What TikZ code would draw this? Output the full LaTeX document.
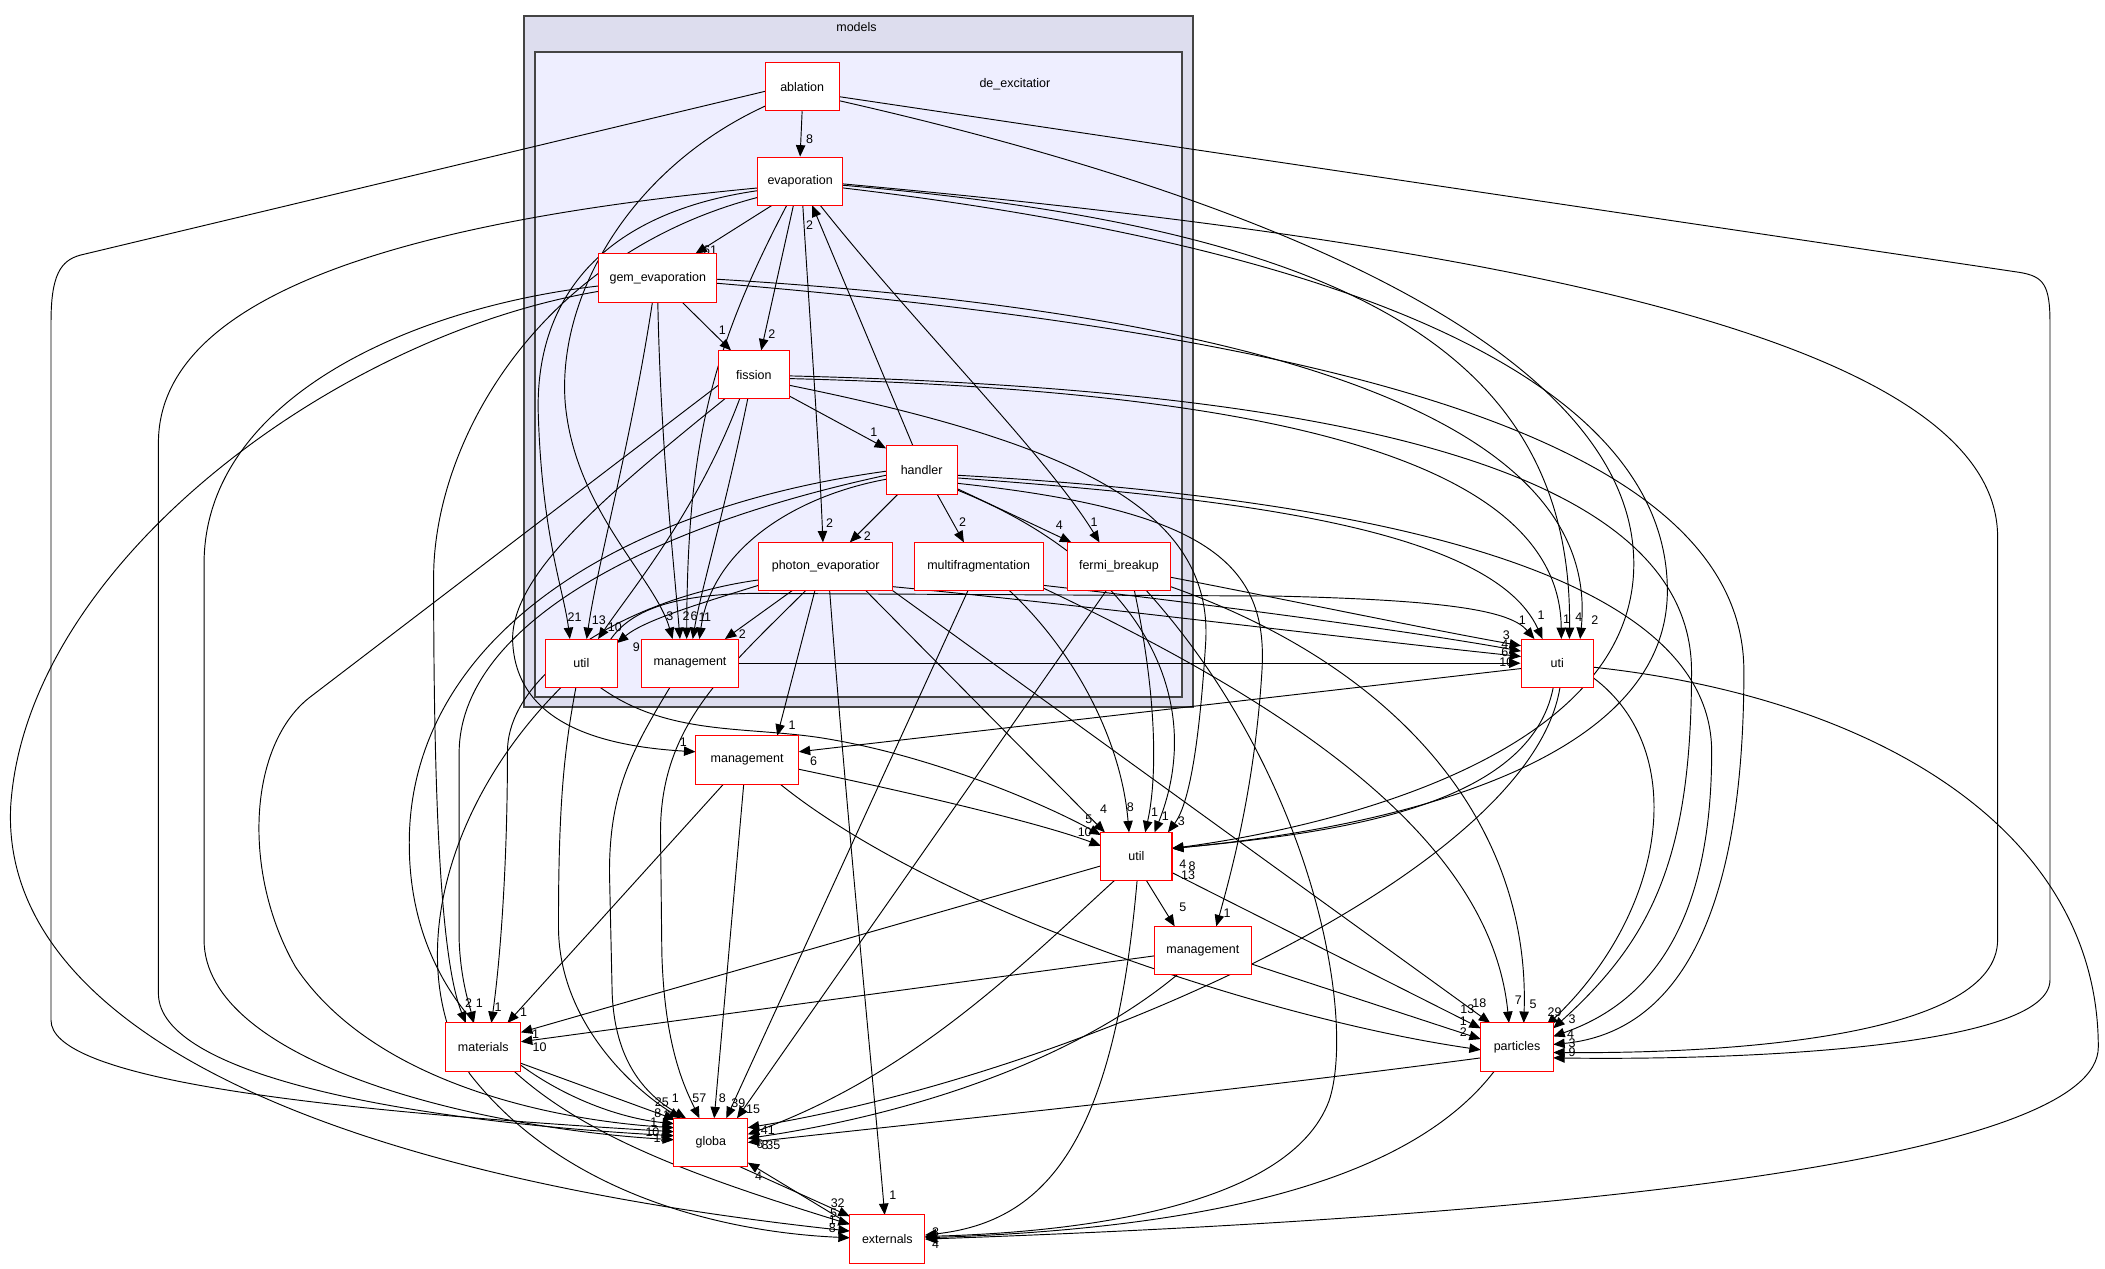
\documentclass[tikz,border=0pt]{standalone}
\usepackage{fontspec}
\setmainfont{Liberation Sans}
\usetikzlibrary{arrows.meta}
\definecolor{outerfill}{HTML}{DDDDEE}
\definecolor{innerfill}{HTML}{EEEEFF}
\definecolor{clborder}{HTML}{444444}
\pgfdeclarelayer{bg}
\pgfdeclarelayer{edges}
\pgfsetlayers{bg,edges,main}
\begin{document}
\begin{tikzpicture}[x=1pt,y=-1pt,
  dbox/.style={draw=red, fill=white, line width=0.75pt, minimum height=36pt, inner sep=0pt, font=\fontsize{9.3}{10}\selectfont},
  dep/.style={draw=black, line width=0.7pt, -{Triangle[length=8.5pt,width=7pt]}},
  lbl/.style={font=\fontsize{9.3}{10}\selectfont, inner sep=0pt},
  cl/.style={draw=clborder, line width=1.4pt}]
\useasboundingbox (0,0) rectangle (1568,944.6);
\begin{pgfonlayer}{bg}
\fill[white] (0,0) rectangle (1568,944.6);
\draw[cl, fill=outerfill] (390.3,12) rectangle (888.5,526.5);
\draw[cl, fill=innerfill] (398.5,38.5) rectangle (880.5,519);
\node[lbl] (tmodels) at (638,20) {models};
\node[lbl] (tdeexc) at (756,63) {de\_excitatior};
\end{pgfonlayer}
% nodes
\node[dbox, minimum width=55pt] (abl) at (597.5,64.5) {ablation};
\node[dbox, minimum width=63pt] (evap) at (596,135) {evaporation};
\node[dbox, minimum width=88pt] (gem) at (490,207) {gem\_evaporation};
\node[dbox, minimum width=53pt] (fis) at (561.5,279) {fission};
\node[dbox, minimum width=53pt] (hand) at (686.5,350) {handler};
\node[dbox, minimum width=100pt] (phot) at (615,422) {photon\_evaporatior};
\node[dbox, minimum width=96pt] (multi) at (729,422) {multifragmentation};
\node[dbox, minimum width=77pt] (fermi) at (833.5,422) {fermi\_breakup};
\node[dbox, minimum width=54pt] (utilA) at (433,494) {util};
\node[dbox, minimum width=72pt] (mgmtA) at (514,494) {management};
\node[dbox, minimum width=54pt] (uti) at (1160,494) {uti};
\node[dbox, minimum width=77pt] (mgmtB) at (556.5,566) {management};
\node[dbox, minimum width=53pt] (utilB) at (846.5,638) {util};
\node[dbox, minimum width=72pt] (mgmtC) at (896,708) {management};
\node[dbox, minimum width=56pt] (mat) at (360,780) {materials};
\node[dbox, minimum width=54pt] (part) at (1130,780) {particles};
\node[dbox, minimum width=55pt] (glob) at (529.5,851) {globa};
\node[dbox, minimum width=56pt] (ext) at (661,923) {externals};
\begin{pgfonlayer}{edges}
% inside de_excitation
\draw[dep] (abl.south) -- (evap.north) node[lbl] at (603,104) {8};
\draw[dep] ([shift={(-21,18)}]evap.center) -- ([shift={(28,-18)}]gem.center) node[lbl] at (529,186) {61};
\draw[dep] ([shift={(-5,18)}]evap.center) -- ([shift={(5.5,-18)}]fis.center) node[lbl] at (575,249) {2};
\draw[dep] ([shift={(18,18)}]gem.center) -- ([shift={(-17,-18)}]fis.center) node[lbl] at (538,246) {1};
\draw[dep] ([shift={(26.5,16)}]fis.center) -- ([shift={(-26.5,-16)}]hand.center) node[lbl] at (651,322) {1};
\draw[dep] ([shift={(-6.5,-18)}]hand.center) -- ([shift={(9,18)}]evap.center) node[lbl] at (603,168) {2};
\draw[dep] ([shift={(2,18)}]evap.center) .. controls (604,250) and (610,330) .. ([shift={(-2,-18)}]phot.center) node[lbl] at (618,390) {2};
\draw[dep] ([shift={(-17.5,18)}]hand.center) -- ([shift={(18,-18)}]phot.center) node[lbl] at (646,399) {2};
\draw[dep] ([shift={(11.5,18)}]hand.center) -- ([shift={(-11,-18)}]multi.center) node[lbl] at (717,389) {2};
\draw[dep] ([shift={(26.5,14)}]hand.center) -- ([shift={(-35.5,-18)}]fermi.center) node[lbl] at (789,391) {4};
\draw[dep] ([shift={(15,18)}]evap.center) .. controls (680,240) and (780,340) .. ([shift={(-14.5,-18)}]fermi.center) node[lbl] at (815,389) {1};
\draw[dep] ([shift={(-31.5,7)}]evap.center) .. controls (440,160) and (398,230) .. (401,310) .. controls (404,400) and (420,440) .. ([shift={(-8.5,-18)}]utilA.center) node[lbl] at (428,460) {21};
\draw[dep] ([shift={(-4,18)}]gem.center) .. controls (470,330) and (445,420) .. ([shift={(4,-18)}]utilA.center) node[lbl] at (446,462) {13};
\draw[dep] ([shift={(-10.5,18)}]fis.center) .. controls (520,380) and (470,440) .. ([shift={(12.5,-18)}]utilA.center) node[lbl] at (458,467) {10};
\draw[dep] ([shift={(-50,14)}]phot.center) .. controls (520,450) and (480,462) .. ([shift={(26.5,-15)}]utilA.center) node[lbl] at (474,482) {9};
\draw[dep] ([shift={(-27.5,14.5)}]abl.center) .. controls (470,125) and (415,220) .. (421,300) .. controls (428,380) and (488,430) .. ([shift={(-13,-18)}]mgmtA.center) node[lbl] at (499,459) {3};
\draw[dep] ([shift={(0,18)}]gem.center) .. controls (492,330) and (502,420) .. ([shift={(-7.5,-18)}]mgmtA.center) node[lbl] at (511,459) {2};
\draw[dep] ([shift={(-10,18)}]evap.center) .. controls (530,260) and (512,330) .. ([shift={(-2.5,-18)}]mgmtA.center) node[lbl] at (517,459) {6};
\draw[dep] ([shift={(-4.5,18)}]fis.center) .. controls (540,380) and (522,440) .. ([shift={(2,-18)}]mgmtA.center) node[lbl] at (523,460) {1};
\draw[dep] ([shift={(-26.5,7)}]hand.center) .. controls (590,370) and (530,410) .. ([shift={(7,-18)}]mgmtA.center) node[lbl] at (527,460) {1};
\draw[dep] ([shift={(-25,18)}]phot.center) -- ([shift={(26,-18)}]mgmtA.center) node[lbl] at (553,472) {2};
% to uti
\draw[dep] (mgmtA.east) -- (uti.west) node[lbl] at (1122,493) {10};
\draw[dep] ([shift={(50,15)}]phot.center) .. controls (800,450) and (1000,475) .. ([shift={(-27,-5)}]uti.center) node[lbl] at (1121,486) {6};
\draw[dep] ([shift={(48,14)}]multi.center) .. controls (900,450) and (1050,470) .. ([shift={(-27,-9)}]uti.center) node[lbl] at (1121,480) {4};
\draw[dep] ([shift={(38.5,8)}]fermi.center) .. controls (950,445) and (1070,470) .. ([shift={(-27,-13)}]uti.center) node[lbl] at (1122,473) {3};
\draw[dep] ([shift={(22,-18)}]utilA.center) .. controls (470,455) and (500,443) .. (560,442) -- (950,444) .. controls (1080,447) and (1125,455) .. ([shift={(-17,-18)}]uti.center) node[lbl] at (1134,462) {1};
\draw[dep] ([shift={(26.5,6)}]hand.center) .. controls (900,370) and (1110,390) .. ([shift={(-11,-18)}]uti.center) node[lbl] at (1148,458) {1};
\draw[dep] ([shift={(26.5,3)}]fis.center) .. controls (900,290) and (1162,330) .. ([shift={(3,-18)}]uti.center) node[lbl] at (1167,461) {1};
\draw[dep] ([shift={(32,3)}]evap.center) .. controls (1000,170) and (1172,260) .. ([shift={(9,-18)}]uti.center) node[lbl] at (1176,460) {4};
\draw[dep] ([shift={(44,1)}]gem.center) .. controls (900,230) and (1195,300) .. ([shift={(17,-18)}]uti.center) node[lbl] at (1188,462) {2};
% management (middle)
\draw[dep] ([shift={(-21.5,18)}]fis.center) .. controls (450,370) and (378,430) .. (382,480) .. controls (386,540) and (450,556) .. ([shift={(-38.5,-6)}]mgmtB.center) node[lbl] at (509,553) {1};
\draw[dep] ([shift={(-8,18)}]phot.center) -- ([shift={(22.5,-18)}]mgmtB.center) node[lbl] at (590,540) {1};
\draw[dep] ([shift={(-27,4)}]uti.center) -- ([shift={(38.5,-6)}]mgmtB.center) node[lbl] at (606,567) {6};
% util (lower)
\draw[dep] ([shift={(14,18)}]utilA.center) .. controls (500,550) and (560,540) .. (620,551) .. controls (700,565) and (780,600) .. ([shift={(-26.5,-16)}]utilB.center) node[lbl] at (811,610) {5};
\draw[dep] ([shift={(38.5,7)}]mgmtB.center) .. controls (700,595) and (780,615) .. ([shift={(-26.5,-8)}]utilB.center) node[lbl] at (808,620) {10};
\draw[dep] ([shift={(30,18)}]phot.center) -- ([shift={(-23.5,-18)}]utilB.center) node[lbl] at (822,603) {4};
\draw[dep] ([shift={(23,18)}]multi.center) .. controls (800,485) and (835,550) .. ([shift={(-5.5,-18)}]utilB.center) node[lbl] at (842,601) {8};
\draw[dep] ([shift={(11.5,18)}]fermi.center) .. controls (862,520) and (862,580) .. ([shift={(6.5,-18)}]utilB.center) node[lbl] at (860,605) {1};
\draw[dep] ([shift={(26.5,15)}]hand.center) .. controls (850,420) and (900,520) .. ([shift={(13.5,-18)}]utilB.center) node[lbl] at (868,608) {1};
\draw[dep] ([shift={(26.5,8)}]fis.center) .. controls (800,330) and (905,380) .. (898,480) .. controls (893,560) and (885,600) .. ([shift={(23.5,-18)}]utilB.center) node[lbl] at (880,612) {3};
\draw[dep] ([shift={(27.5,10.5)}]abl.center) .. controls (1000,160) and (1217,280) .. (1217,420) .. controls (1217,560) and (1000,615) .. ([shift={(26.5,-6)}]utilB.center) node[lbl] at (881,644) {4};
\draw[dep] ([shift={(32,5)}]evap.center) .. controls (1050,190) and (1242,300) .. (1242,440) .. controls (1242,580) and (1000,620) .. ([shift={(26.5,-6)}]utilB.center) node[lbl] at (888,645) {8};
\draw[dep] ([shift={(-3,18)}]uti.center) .. controls (1140,600) and (1000,620) .. ([shift={(26.5,-6)}]utilB.center) node[lbl] at (885,652) {13};
% management (lower)
\draw[dep] ([shift={(7.5,18)}]utilB.center) -- ([shift={(-21,-18)}]mgmtC.center) node[lbl] at (881,676) {5};
\draw[dep] ([shift={(26.5,10)}]hand.center) .. controls (900,380) and (945,420) .. (940,500) .. controls (935,580) and (920,640) .. ([shift={(10,-18)}]mgmtC.center) node[lbl] at (914,680) {1};
% materials
\draw[dep] ([shift={(-31.5,12)}]evap.center) .. controls (400,190) and (323,330) .. (323,430) .. controls (323,620) and (330,720) .. ([shift={(-13,-18)}]mat.center) node[lbl] at (349,747) {2};
\draw[dep] ([shift={(-26.5,4)}]hand.center) .. controls (470,395) and (343,470) .. (342,560) -- (342,700) .. controls (343,730) and (350,750) .. ([shift={(-7,-18)}]mat.center) node[lbl] at (357,747) {1};
\draw[dep] ([shift={(-50,10)}]phot.center) .. controls (470,445) and (378,500) .. (378,560) .. controls (378,650) and (372,720) .. ([shift={(6,-18)}]mat.center) node[lbl] at (371,750) {1};
\draw[dep] ([shift={(-17.5,18)}]mgmtB.center) -- ([shift={(18,-18)}]mat.center) node[lbl] at (390,754) {1};
\draw[dep] ([shift={(-26.5,7)}]utilB.center) -- ([shift={(28,-11)}]mat.center) node[lbl] at (399,770) {1};
\draw[dep] ([shift={(-36,4)}]mgmtC.center) -- ([shift={(28,-4)}]mat.center) node[lbl] at (402,780) {10};
% globa
\draw[dep] ([shift={(-27.5,3.5)}]abl.center) -- (60,190) .. controls (45,194) and (38,205) .. (38,240) -- (38,760) .. controls (38,800) and (200,825) .. ([shift={(-27.5,-8)}]glob.center) node[lbl] at (486,843) {10};
\draw[dep] ([shift={(-31.5,5)}]evap.center) .. controls (300,165) and (118,220) .. (118,330) -- (118,740) .. controls (118,800) and (300,835) .. ([shift={(-27.5,-5)}]glob.center) node[lbl] at (497,842) {6};
\draw[dep] ([shift={(-44,6)}]gem.center) .. controls (300,230) and (152,300) .. (152,420) -- (152,700) .. controls (152,790) and (350,840) .. ([shift={(-27.5,-2)}]glob.center) node[lbl] at (492,848) {15};
\draw[dep] ([shift={(-26.5,8)}]fis.center) -- (230,520) .. controls (185,556) and (180,650) .. (220,720) .. controls (280,810) and (420,835) .. ([shift={(-27.5,-11)}]glob.center) node[lbl] at (497,831) {2};
\draw[dep] ([shift={(-26.5,1)}]hand.center) .. controls (450,380) and (310,480) .. (305,620) .. controls (300,770) and (430,830) .. ([shift={(-27.5,-14)}]glob.center) node[lbl] at (487,836) {1};
\draw[dep] ([shift={(28,12)}]mat.center) -- ([shift={(-26.5,-17)}]glob.center) node[lbl] at (490,829) {8};
\draw[dep] ([shift={(-4,18)}]utilA.center) .. controls (420,560) and (416,600) .. (416,690) .. controls (416,760) and (470,810) .. ([shift={(-22.5,-18)}]glob.center) node[lbl] at (493,821) {25};
\draw[dep] ([shift={(-15,18)}]mgmtA.center) .. controls (470,560) and (454,590) .. (454,650) -- (456,740) .. controls (458,790) and (480,815) .. ([shift={(-18.5,-18)}]glob.center) node[lbl] at (503,818) {1};
\draw[dep] ([shift={(-15,18)}]phot.center) .. controls (540,500) and (492,540) .. (492,620) -- (493,710) .. controls (495,780) and (510,810) .. ([shift={(-8.5,-18)}]glob.center) node[lbl] at (521,818) {57};
\draw[dep] ([shift={(-2.5,18)}]mgmtB.center) -- ([shift={(2.5,-18)}]glob.center) node[lbl] at (538,818) {8};
\draw[dep] ([shift={(-8,18)}]multi.center) -- ([shift={(11.5,-18)}]glob.center) node[lbl] at (550,822) {39};
\draw[dep] ([shift={(-9.5,18)}]fermi.center) -- ([shift={(19.5,-18)}]glob.center) node[lbl] at (561,826) {15};
\draw[dep] ([shift={(2,18)}]uti.center) .. controls (1140,650) and (800,800) .. ([shift={(27.5,-11)}]glob.center) node[lbl] at (572,842) {41};
\draw[dep] ([shift={(-16.5,18)}]utilB.center) .. controls (760,720) and (680,800) .. ([shift={(27.5,-6)}]glob.center) node[lbl] at (566,852) {6};
\draw[dep] ([shift={(-19,18)}]mgmtC.center) .. controls (800,790) and (680,830) .. ([shift={(27.5,-3)}]glob.center) node[lbl] at (570,853) {8};
\draw[dep] ([shift={(-27,8)}]part.center) .. controls (900,815) and (700,835) .. ([shift={(27.5,0)}]glob.center) node[lbl] at (576,853) {35};
\draw[dep] ([shift={(-28,-11)}]ext.center) -- ([shift={(27.5,15)}]glob.center) node[lbl] at (565,876) {4};
% externals
\draw[dep] ([shift={(21.5,18)}]glob.center) -- ([shift={(-28,-17)}]ext.center) node[lbl] at (624,896) {32};
\draw[dep] ([shift={(23,18)}]mat.center) .. controls (440,850) and (530,880) .. ([shift={(-28,-11)}]ext.center) node[lbl] at (621,904) {5};
\draw[dep] ([shift={(-44,10)}]gem.center) .. controls (250,250) and (20,420) .. (8,600) .. controls (0,750) and (200,870) .. ([shift={(-28,-6)}]ext.center) node[lbl] at (620,909) {1};
\draw[dep] ([shift={(-15,18)}]utilA.center) .. controls (330,600) and (300,720) .. (350,800) .. controls (420,890) and (540,918) .. ([shift={(-28,-1)}]ext.center) node[lbl] at (620,915) {8};
\draw[dep] ([shift={(3,18)}]phot.center) .. controls (630,600) and (650,800) .. ([shift={(-2,-18)}]ext.center) node[lbl] at (665,890) {1};
\draw[dep] ([shift={(0.5,18)}]utilB.center) .. controls (830,850) and (780,910) .. ([shift={(28,-3)}]ext.center) node[lbl] at (697,918) {3};
\draw[dep] ([shift={(20.5,18)}]fermi.center) .. controls (980,580) and (1010,760) .. (990,820) .. controls (960,900) and (800,918) .. ([shift={(28,-2)}]ext.center) node[lbl] at (697,924) {4};
\draw[dep] ([shift={(-17,18)}]part.center) .. controls (1050,880) and (900,915) .. ([shift={(28,-1)}]ext.center) node[lbl] at (697,927) {4};
\draw[dep] ([shift={(27,3)}]uti.center) .. controls (1400,520) and (1563,620) .. (1563,780) .. controls (1563,860) and (1200,905) .. ([shift={(28,0)}]ext.center);
% particles
\draw[dep] ([shift={(26.5,12)}]utilB.center) -- ([shift={(-27,-14)}]part.center) node[lbl] at (1093,752) {13};
\draw[dep] ([shift={(50,18)}]phot.center) -- ([shift={(-20,-18)}]part.center) node[lbl] at (1102,747) {18};
\draw[dep] ([shift={(24.5,18)}]mgmtB.center) .. controls (700,680) and (950,760) .. ([shift={(-27,2)}]part.center) node[lbl] at (1090,769) {2};
\draw[dep] ([shift={(36,10)}]mgmtC.center) -- ([shift={(-27,-6)}]part.center) node[lbl] at (1090,761) {1};
\draw[dep] ([shift={(48,16)}]multi.center) .. controls (950,520) and (1110,620) .. ([shift={(-6,-18)}]part.center) node[lbl] at (1131,745) {7};
\draw[dep] ([shift={(38.5,15)}]fermi.center) .. controls (1050,500) and (1140,620) .. ([shift={(5,-18)}]part.center) node[lbl] at (1142,748) {5};
\draw[dep] ([shift={(27,11)}]uti.center) .. controls (1260,560) and (1240,680) .. ([shift={(22,-16)}]part.center) node[lbl] at (1158,754) {29};
\draw[dep] ([shift={(26.5,1)}]fis.center) .. controls (1000,290) and (1260,350) .. (1260,500) .. controls (1260,640) and (1230,700) .. ([shift={(27,-14)}]part.center) node[lbl] at (1171,759) {3};
\draw[dep] ([shift={(26.5,4)}]hand.center) .. controls (1000,370) and (1275,420) .. (1275,560) .. controls (1275,700) and (1220,750) .. ([shift={(27,-8)}]part.center) node[lbl] at (1170,770) {4};
\draw[dep] ([shift={(44,4)}]gem.center) .. controls (1000,250) and (1299,330) .. (1299,500) .. controls (1299,700) and (1240,770) .. ([shift={(27,-2)}]part.center) node[lbl] at (1171,777) {3};
\draw[dep] ([shift={(32,2)}]evap.center) .. controls (1100,180) and (1488,250) .. (1488,400) -- (1488,700) .. controls (1488,770) and (1300,785) .. ([shift={(27,4)}]part.center) node[lbl] at (1171,784) {9};
\draw[dep] ([shift={(27.5,7.5)}]abl.center) -- (1505,203) .. controls (1522,206) and (1527,212) .. (1527,240) -- (1527,730) .. controls (1527,780) and (1300,790) .. ([shift={(27,8)}]part.center);
\end{pgfonlayer}
\end{tikzpicture}
\end{document}
